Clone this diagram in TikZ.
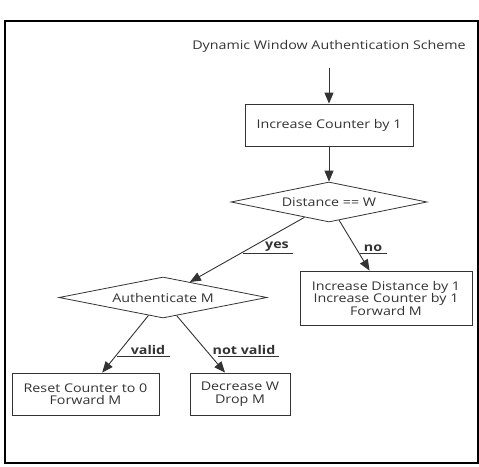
\documentclass[tikz,border=0pt]{standalone}
\usepackage{fontspec}
\setmainfont{Open Sans}[FakeStretch=1.19]
\usetikzlibrary{shapes.geometric,arrows.meta}
\definecolor{ink}{HTML}{333333}
\begin{document}
\begin{tikzpicture}[x=1pt,y=-1pt,
  font=\fontsize{12}{12.5}\selectfont,
  every node/.style={text=ink},
  box/.style={draw=ink, line width=0.8pt, rectangle, align=center, inner sep=0pt},
  dec/.style={draw=ink, line width=0.8pt, diamond, aspect=4.9, inner sep=0pt},
  conn/.style={draw=ink, line width=0.9pt, -{Triangle[length=11pt,width=9pt]}},
  lbl/.style={font=\fontsize{12}{12.5}\selectfont\bfseries, inner sep=1pt, anchor=south},
  uline/.style={draw=ink, line width=0.9pt}]
\useasboundingbox (0,0) rectangle (479,466);
\draw[black, line width=1.6pt] (5,21) rectangle (478,463);
\node (title) at (329,46) {Dynamic Window Authentication Scheme};
\coordinate (start) at (329,68);
\node[box, minimum width=168pt, minimum height=42pt] (b1) at (329,125) {Increase Counter by 1};
\node[dec, minimum width=196pt, minimum height=40pt] (d1) at (329,202) {Distance == W};
\node[dec, minimum width=208pt, minimum height=41pt] (d2) at (163,297.5) {Authenticate M};
\node[box, minimum width=172pt, minimum height=54pt] (b3) at (386,298) {Increase Distance by 1\\Increase Counter by 1\\Forward M};
\node[box, minimum width=147pt, minimum height=42pt] (b4) at (85.5,394) {Reset Counter to 0\\Forward M};
\node[box, minimum width=100pt, minimum height=42pt] (b5) at (240,394) {Decrease W\\Drop M};
\draw[conn] (start) -- (b1.north);
\draw[conn] (b1.south) -- (d1.north);
\draw[conn] (d1.212) -- (d2.30);
\draw[conn] (d1.299) -- (b3.121);
\draw[conn] (d2.231) -- (b4.52);
\draw[conn] (d2.307) -- (b5.125.5);
\node[lbl] (lyes) at (277,253) {yes};
\draw[uline] (243,253) -- (293,253);
\node[lbl] (lno) at (373,253) {no};
\draw[uline] (360,253) -- (387,253);
\node[lbl] (lval) at (148,356) {valid};
\draw[uline] (117,356) -- (170,356);
\node[lbl] (lnv) at (244,356) {not valid};
\draw[uline] (218,356) -- (279,356);
\end{tikzpicture}
\end{document}
